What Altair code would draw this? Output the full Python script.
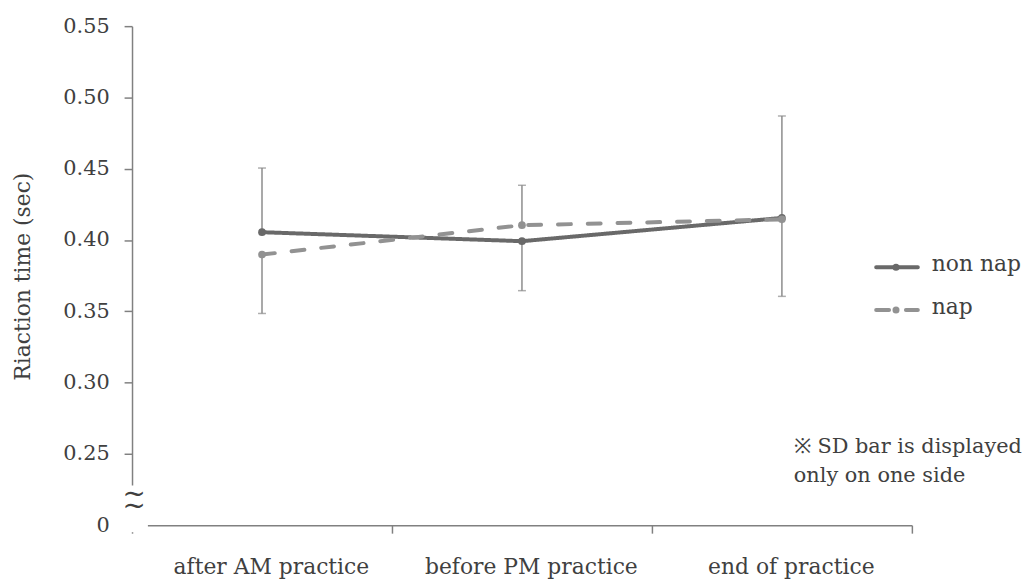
import altair as alt
import pandas as pd

categories = ["after AM practice", "before PM practice", "end of practice"]
series_names = ["non nap", "nap"]
non_nap = [0.4055, 0.3992, 0.4155]
nap = [0.3898, 0.4104, 0.4145]
non_nap_sd = [0.045, 0.0347, 0.0715]
nap_sd = [0.0413, 0.028, 0.054]
non_nap_sd_side = [1, -1, 1]
nap_sd_side = [-1, 1, -1]
y_ticks = [0.20, 0.25, 0.30, 0.35, 0.40, 0.45, 0.50, 0.55]
note_lines = ["※ SD bar is displayed", "only on one side"]

FONT = "DejaVu Serif"
TEXT_COLOR = "#404040"
AXIS_COLOR = "#808080"
COLORS = {"non nap": "#696969", "nap": "#929292"}
DASHES = {"non nap": [1, 0], "nap": [13, 17]}

rows = []
for name, vals, sds, sides in [("non nap", non_nap, non_nap_sd, non_nap_sd_side),
                               ("nap", nap, nap_sd, nap_sd_side)]:
    for c, v, s, d in zip(categories, vals, sds, sides):
        rows.append({"cat": c, "series": name, "value": v, "sd_end": v + d * s})
df = pd.DataFrame(rows)

W, H = 786, 503

xenc = alt.X("cat:N", sort=categories,
             scale=alt.Scale(type="band", paddingInner=0, paddingOuter=0),
             axis=alt.Axis(title=None, labelAngle=0, tickBand="extent", tickSize=8,
                           tickColor=AXIS_COLOR, domainColor=AXIS_COLOR, domainWidth=1.5,
                           tickWidth=1.5, labelFont=FONT, labelFontSize=22,
                           labelColor=TEXT_COLOR, labelBaseline="alphabetic",
                           labelPadding=41, labelOffset=9, labelLimit=400, grid=False))
yscale = alt.Scale(domain=[0.2, 0.55], nice=False, zero=False)
yenc = alt.Y("value:Q", scale=yscale,
             axis=alt.Axis(values=y_ticks, title="Riaction time (sec)",
                           labelExpr="datum.value < 0.22 ? '0' : format(datum.value, '.2f')",
                           labelFont=FONT, labelFontSize=21, labelColor=TEXT_COLOR,
                           labelPadding=15, tickSize=8, tickColor=AXIS_COLOR, tickWidth=1.5,
                           domainColor=AXIS_COLOR, domainWidth=1.5, grid=False,
                           titleFont=FONT, titleFontSize=22, titleFontWeight="normal",
                           titleColor=TEXT_COLOR, titleAngle=-90, titleX=-110, titleY=252,
                           titleAlign="center", titleBaseline="middle"))

base = alt.Chart(df)

errbars = base.mark_rule(color="#8c8c8c", strokeWidth=1.5).encode(
    x=xenc, y=yenc, y2="sd_end:Q")
caps = base.mark_tick(color="#8c8c8c", thickness=1.5, size=8).encode(
    x=xenc, y=alt.Y("sd_end:Q", scale=yscale))

layers = [errbars, caps]
for name in series_names:
    sub = base.transform_filter(alt.datum.series == name)
    layers.append(sub.mark_line(color=COLORS[name], strokeWidth=4, strokeCap="round",
                                strokeDash=DASHES[name]).encode(x=xenc, y=yenc))
    layers.append(sub.mark_point(color=COLORS[name], filled=True, opacity=1, size=60).encode(
        x=xenc, y=yenc))

# axis break cover and symbol
cover = alt.Chart(pd.DataFrame({"a": [0]})).mark_rect(color="white").encode(
    x=alt.value(-9), x2=alt.value(16), y=alt.value(463), y2=alt.value(510))
layers.append(cover)
for ty in [473, 485]:
    layers.append(alt.Chart(pd.DataFrame({"t": ["~"]})).mark_text(
        font=FONT, fontSize=28, color=TEXT_COLOR, align="center", baseline="middle").encode(
        text="t:N", x=alt.value(2), y=alt.value(ty)))

# legend
leg_y = {"non nap": 243, "nap": 286}
for name in series_names:
    ld = pd.DataFrame({"series": [name]})
    lc = alt.Chart(ld)
    layers.append(lc.mark_rule(color=COLORS[name], strokeWidth=4, strokeCap="round",
                               strokeDash=DASHES[name]).encode(
        x=alt.value(750), x2=alt.value(792), y=alt.value(leg_y[name])))
    layers.append(lc.mark_point(color=COLORS[name], filled=True, opacity=1, size=50).encode(
        x=alt.value(770), y=alt.value(leg_y[name])))
    layers.append(lc.mark_text(font=FONT, fontSize=22, color=TEXT_COLOR, align="left",
                               baseline="middle").encode(
        text="series:N", x=alt.value(806), y=alt.value(leg_y[name] - 3)))

# note
for i, line in enumerate(note_lines):
    layers.append(alt.Chart(pd.DataFrame({"t": [line]})).mark_text(
        font=FONT, fontSize=21, color=TEXT_COLOR, align="left", baseline="alphabetic").encode(
        text="t:N", x=alt.value(667), y=alt.value(430 + i * 29)))

chart = alt.layer(*layers).properties(
    width=W, height=H,
    background="white",
    autosize=alt.AutoSizeParams(type="none"),
    padding={"left": 125, "top": 16, "right": 113, "bottom": 64},
).configure_view(stroke=None, strokeWidth=0)

chart.save("out.html", embed_options={"renderer": "svg", "actions": False})
